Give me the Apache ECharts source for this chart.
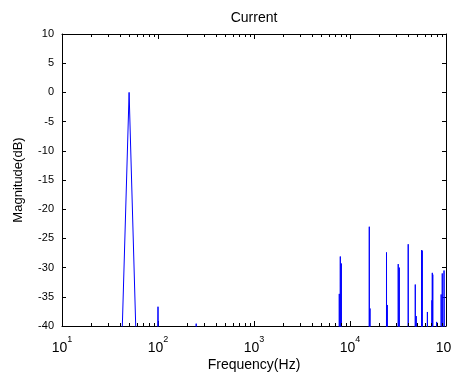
<!DOCTYPE html>
<html>
<head>
<meta charset="utf-8">
<title>Current</title>
<script src="https://cdn.jsdelivr.net/npm/echarts@6/dist/echarts.min.js"></script>
<style>
  html, body { margin: 0; padding: 0; background: #fff; }
  #chart { width: 451px; height: 372px; }
</style>
</head>
<body>
<div id="chart"></div>
<script>
'use strict';

/*----- data (-100 = below the axis floor) -----*/
var freqHz = [
  10,
  40, 50, 60,
  90, 100, 110,
  240, 250, 260,
  7700, 7735, 7830, 7926, 8020, 8120, 8200,
  15800, 15880, 15990, 16150, 16250,
  23900, 24000, 24200, 24450, 24600,
  31700, 31800, 32200, 32600, 32800,
  40300, 40400, 40500,
  47700, 47850, 48400, 48950, 49100,
  55600, 55750, 56150, 56550, 56700,
  63800, 64000, 64200,
  71300, 71450, 71700, 72000, 72400, 72800, 73000,
  79800, 80000, 80200,
  88800, 89000, 90200, 91400, 93500, 95400, 100000
];
var magDb = [
  -100,
  -55, 0, -46,
  -100, -36.7, -100,
  -100, -39.6, -100,
  -100, -34.5, -100, -28.1, -100, -29.3, -100,
  -100, -23.0, -100, -37.0, -100,
  -100, -27.4, -100, -36.4, -100,
  -100, -29.4, -100, -30.0, -100,
  -100, -26.0, -100,
  -100, -32.9, -100, -38.3, -100,
  -100, -27.0, -100, -27.1, -100,
  -100, -37.6, -100,
  -100, -35.6, -100, -30.9, -100, -31.2, -100,
  -100, -39.3, -100,
  -100, -34.6, -100, -31.0, -100, -30.5, -100
];
var minorTickHz = [
  20, 30, 40, 50, 60, 70, 80, 90,
  200, 300, 400, 500, 600, 700, 800, 900,
  2000, 3000, 4000, 5000, 6000, 7000, 8000, 9000,
  20000, 30000, 40000, 50000, 60000, 70000, 80000, 90000
];
var yMin = -40, yMax = 10, yStep = 5;
var xMin = 10, xMax = 100000;

var font = "'Liberation Sans', Arial, sans-serif";

var spectrum = freqHz.map(function (f, i) { return [f, magDb[i]]; });

var boxLine = { show: true, onZero: false, lineStyle: { color: '#000', width: 1 } };

var option = {
  animation: false,
  textStyle: { fontFamily: font, color: '#000' },
  grid: { left: 62, right: 5, top: 34, bottom: 46, outerBoundsMode: 'none', containLabel: false },
  xAxis: [
    {
      type: 'log', logBase: 10, min: xMin, max: xMax,
      name: 'Frequency(Hz)', nameLocation: 'middle', nameGap: 32, nameMoveOverlap: false,
      nameTextStyle: { fontSize: 14, color: '#000', fontFamily: font },
      axisLine: boxLine,
      axisTick: { show: true, inside: true, length: 5, lineStyle: { color: '#000' } },
      splitLine: { show: false },
      axisLabel: {
        margin: 9, color: '#000', fontFamily: font, showMaxLabel: true, hideOverlap: false,
        formatter: function (v) {
          return '{b|10}{s|' + Math.round(Math.log(v) / Math.LN10) + '}';
        },
        rich: {
          b: { fontSize: 14, lineHeight: 26, fontFamily: font, color: '#000' },
          s: { fontSize: 9, lineHeight: 9, verticalAlign: 'top', fontFamily: font, color: '#000' }
        }
      }
    },
    {
      type: 'log', logBase: 10, min: xMin, max: xMax, position: 'top',
      name: 'Current', nameLocation: 'middle', nameGap: 9, nameMoveOverlap: false,
      nameTextStyle: { fontSize: 14, color: '#000', fontFamily: font },
      axisLine: boxLine,
      axisTick: { show: true, inside: true, length: 5, lineStyle: { color: '#000' } },
      axisLabel: { show: false },
      splitLine: { show: false }
    }
  ],
  yAxis: [
    {
      type: 'value', min: yMin, max: yMax, interval: yStep,
      name: 'Magnitude(dB)', nameLocation: 'middle', nameGap: 37, nameMoveOverlap: false,
      nameTextStyle: { fontSize: 13, color: '#000', fontFamily: font },
      axisLine: boxLine,
      axisTick: { show: true, inside: true, length: 4, lineStyle: { color: '#000' } },
      axisLabel: { fontSize: 11, margin: 8, color: '#000', fontFamily: font },
      splitLine: { show: false }
    },
    {
      type: 'value', min: yMin, max: yMax, interval: yStep, position: 'right',
      axisLine: boxLine,
      axisTick: { show: true, inside: true, length: 4, lineStyle: { color: '#000' } },
      axisLabel: { show: false },
      splitLine: { show: false }
    }
  ],
  series: [
    {
      name: 'spectrum',
      type: 'line',
      xAxisIndex: 0, yAxisIndex: 0,
      data: spectrum,
      symbol: 'none',
      showSymbol: false,
      clip: true,
      lineStyle: { color: '#0000ff', width: 1 },
      z: 3
    },
    {
      /*---- log minor ticks, bottom and top ----*/
      name: 'minorTicks',
      type: 'custom',
      xAxisIndex: 0, yAxisIndex: 0,
      silent: true,
      data: minorTickHz.map(function (f) { return [f]; }),
      renderItem: function (params, api) {
        var b = api.coord([api.value(0), yMin]);
        var t = api.coord([api.value(0), yMax]);
        var x = Math.round(b[0]) + 0.5;
        return {
          type: 'group',
          children: [
            { type: 'line', shape: { x1: x, y1: b[1], x2: x, y2: b[1] - 3 }, style: { stroke: '#000', lineWidth: 1 } },
            { type: 'line', shape: { x1: x, y1: t[1], x2: x, y2: t[1] + 3 }, style: { stroke: '#000', lineWidth: 1 } }
          ]
        };
      },
      z: 4
    }
  ]
};

var chart = echarts.init(document.getElementById('chart'), null, { renderer: 'canvas' });
chart.setOption(option);
</script>
</body>
</html>
